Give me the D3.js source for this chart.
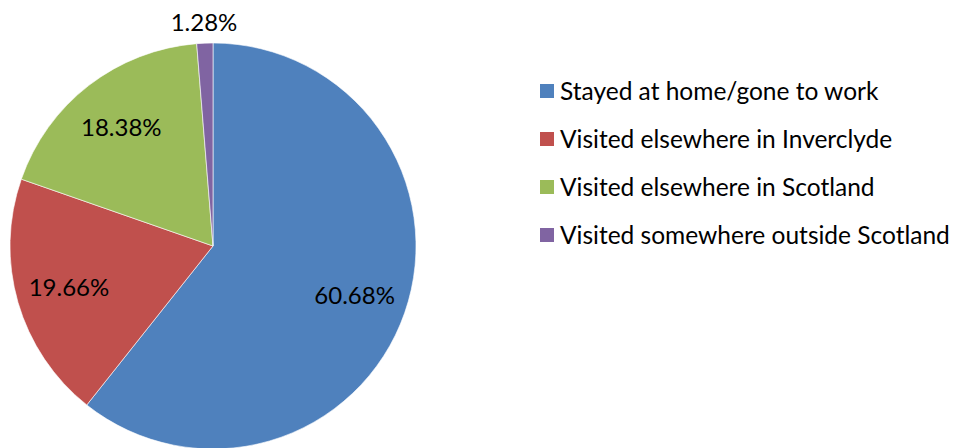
<!DOCTYPE html>
<html>
<head>
<meta charset="utf-8">
<script src="https://cdn.jsdelivr.net/npm/d3@7"></script>
<style>
  body { margin: 0; background: #fff; overflow: hidden; }
  svg { display: block; }
  svg text { font-family: Lato, "Open Sans", sans-serif; fill: #000; }
</style>
</head>
<body>
<div id="chartWrapper"></div>
<script>
const categories = [
  "Stayed at home/gone to work",
  "Visited elsewhere in Inverclyde",
  "Visited elsewhere in Scotland",
  "Visited somewhere outside Scotland"
];
const values = [60.68, 19.66, 18.38, 1.28];
const sliceColors = ["#4F81BD", "#C0504D", "#9BBB59", "#8064A2"];

const chartVars = {
  width: 957,
  height: 448,
  cx: 213,
  cy: 246,
  radius: 203,
  labelRadius: 150,
  outsideLabelRadius: 224,
  legendX: 540,
  legendY: 91,
  legendStep: 48,
  labelSize: 24,
  legendSize: 24.5
};

function makeSvg(parId, w, h){
  return d3.select('#' + parId).append('svg')
    .attr('width', w)
    .attr('height', h);
}

const svg = makeSvg('chartWrapper', chartVars.width, chartVars.height);

const rows = categories.map((c, i) => ({ name: c, value: values[i] }));
const colorScale = d3.scaleOrdinal().domain(categories).range(sliceColors);

const pieFunc = d3.pie().sort(null).value(d => d.value);
const arcFunc = d3.arc().innerRadius(0).outerRadius(chartVars.radius);
const labelArc = d3.arc().innerRadius(chartVars.labelRadius).outerRadius(chartVars.labelRadius);
const outsideArc = d3.arc().innerRadius(chartVars.outsideLabelRadius).outerRadius(chartVars.outsideLabelRadius);

const pieG = svg.append('g')
  .attr('transform', `translate(${chartVars.cx}, ${chartVars.cy})`);

const arcs = pieFunc(rows);

pieG.selectAll('path')
  .data(arcs)
  .enter()
  .append('path')
  .attr('d', arcFunc)
  .attr('fill', d => colorScale(d.data.name))
  .attr('stroke', '#fff')
  .attr('stroke-width', 0.6);

// small slices get their label outside the pie
pieG.selectAll('text.pieLabel')
  .data(arcs)
  .enter()
  .append('text')
  .attr('class', 'pieLabel')
  .attr('transform', d => {
    const a = d.data.value < 5 ? outsideArc : labelArc;
    return `translate(${a.centroid(d)})`;
  })
  .attr('text-anchor', 'middle')
  .attr('dy', '0.35em')
  .style('font-size', chartVars.labelSize + 'px')
  .text(d => d3.format('.2f')(d.data.value) + '%');

const legendG = svg.append('g')
  .attr('transform', `translate(${chartVars.legendX}, ${chartVars.legendY})`);

const legendRow = legendG.selectAll('g')
  .data(categories)
  .enter()
  .append('g')
  .attr('transform', (d, i) => `translate(0, ${i * chartVars.legendStep})`);

legendRow.append('rect')
  .attr('x', 0)
  .attr('y', -7)
  .attr('width', 14)
  .attr('height', 14)
  .attr('fill', d => colorScale(d));

legendRow.append('text')
  .attr('x', 20)
  .attr('dy', '0.35em')
  .style('font-size', chartVars.legendSize + 'px')
  .text(d => d);
</script>
</body>
</html>
